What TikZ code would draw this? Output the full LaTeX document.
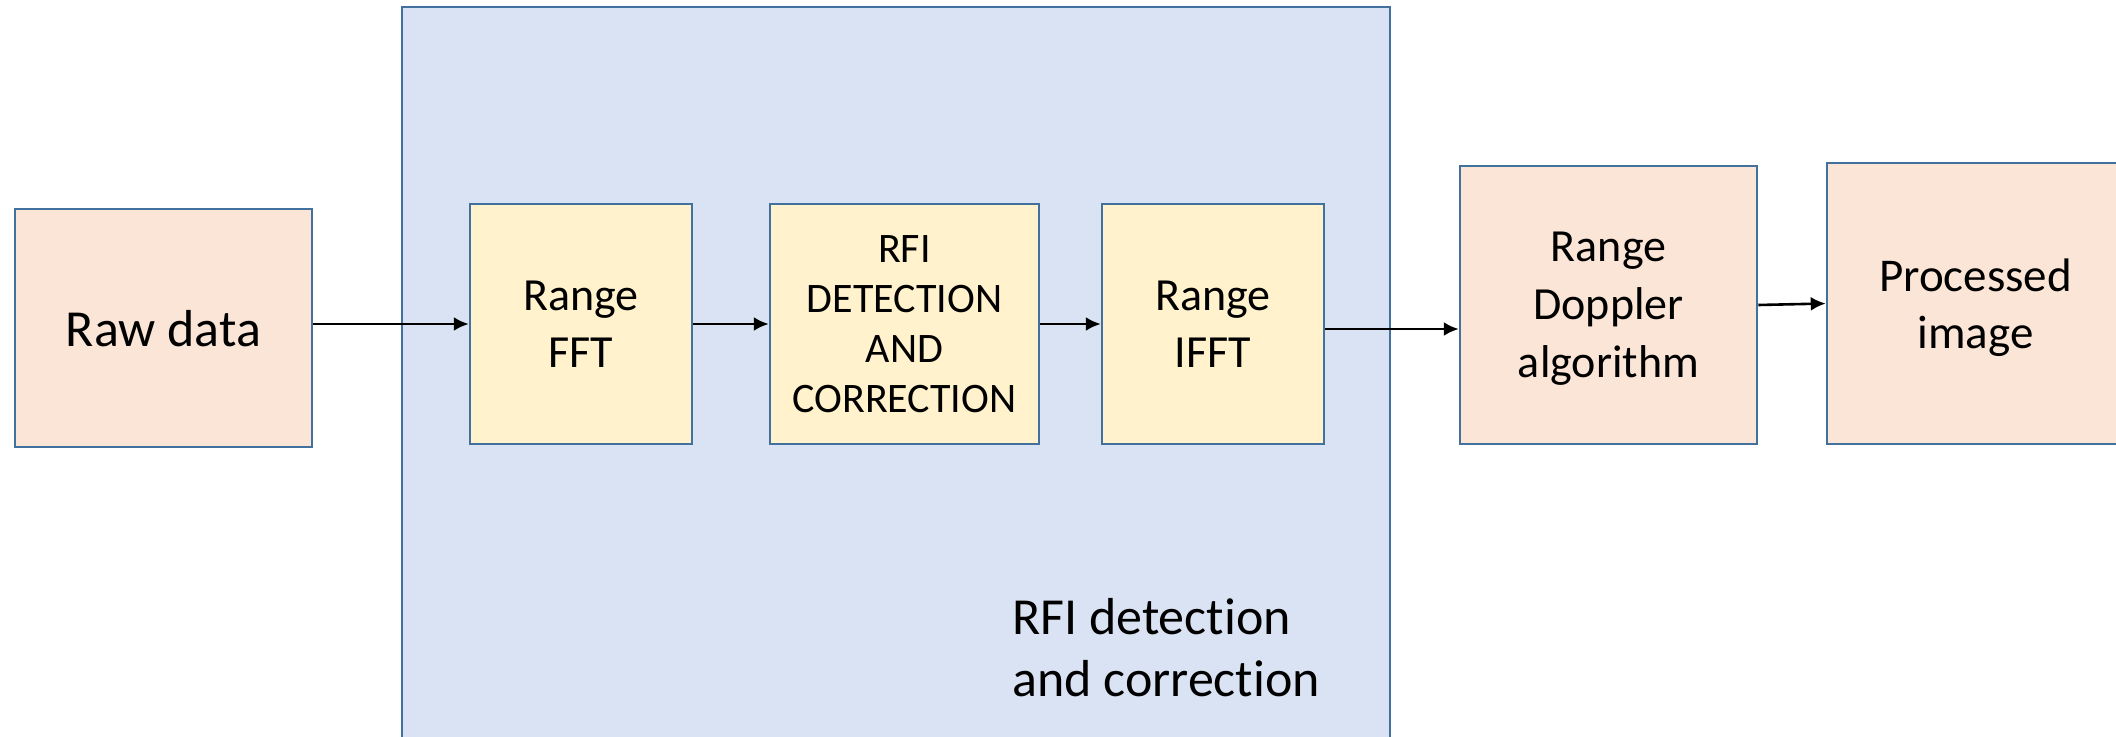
\documentclass[tikz,border=0pt]{standalone}
\usepackage{fontspec}
\setmainfont{Carlito}[Ligatures=NoCommon]
\usetikzlibrary{arrows.meta}
\definecolor{bordc}{HTML}{41719C}
\definecolor{bigfill}{HTML}{DAE3F3}
\definecolor{peach}{HTML}{FBE5D6}
\definecolor{yell}{HTML}{FFF2CC}
\tikzset{
  blk/.style={draw=bordc, line width=2.5pt, inner sep=0pt, align=center},
  peachbox/.style={blk, fill=peach},
  yellbox/.style={blk, fill=yell},
  conn/.style={line width=2.6pt, -{Latex[length=15pt,width=14pt]}},
}
\begin{document}
\begin{tikzpicture}[x=1pt,y=-1pt]
\useasboundingbox (0,0) rectangle (2116,736);
\clip (0,0) rectangle (2116,736);
\fill[white] (0,0) rectangle (2116,736);
% big container
\draw[draw=bordc, fill=bigfill, line width=2.5pt] (402,7) rectangle (1390,790);
\node[anchor=west, align=left, inner sep=0pt, font=\fontsize{52}{62}\selectfont] (lbl) at (1012,648) {RFI detection\\and correction};
% boxes
\node[peachbox, minimum width=297pt, minimum height=238pt, text depth=0pt, font=\fontsize{52}{62}\selectfont] (raw) at (163.5,328) {Raw data};
\node[yellbox, minimum width=222pt, minimum height=240pt, font=\fontsize{46}{57}\selectfont] (fft) at (581,324) {Range\\FFT};
\node[yellbox, minimum width=269pt, minimum height=240pt, font=\fontsize{42}{50}\selectfont] (rfi) at (904.5,324) {RFI\\DETECTION\\AND\\CORRECTION};
\node[yellbox, minimum width=222pt, minimum height=240pt, font=\fontsize{46}{57}\selectfont] (ifft) at (1213,324) {Range\\IFFT};
\node[peachbox, minimum width=297pt, minimum height=278pt, text depth=0pt, font=\fontsize{46}{58}\selectfont] (rd) at (1608.5,305) {Range\\Doppler\\algorithm};
\node[peachbox, minimum width=297pt, minimum height=281pt, text depth=0pt, font=\fontsize{47}{57}\selectfont] (pi) at (1975.5,303.5) {Processed\\image};
% connectors
\draw[conn] (raw.east |- fft.west) -- (fft.west);
\draw[conn] (fft.east) -- (rfi.west);
\draw[conn] (rfi.east) -- (ifft.west);
\draw[conn] ([yshift=-5pt]ifft.east) -- ([yshift=-5pt]ifft.east -| rd.west);
\draw[conn] (rd.east) -- (pi.west);
\end{tikzpicture}
\end{document}
